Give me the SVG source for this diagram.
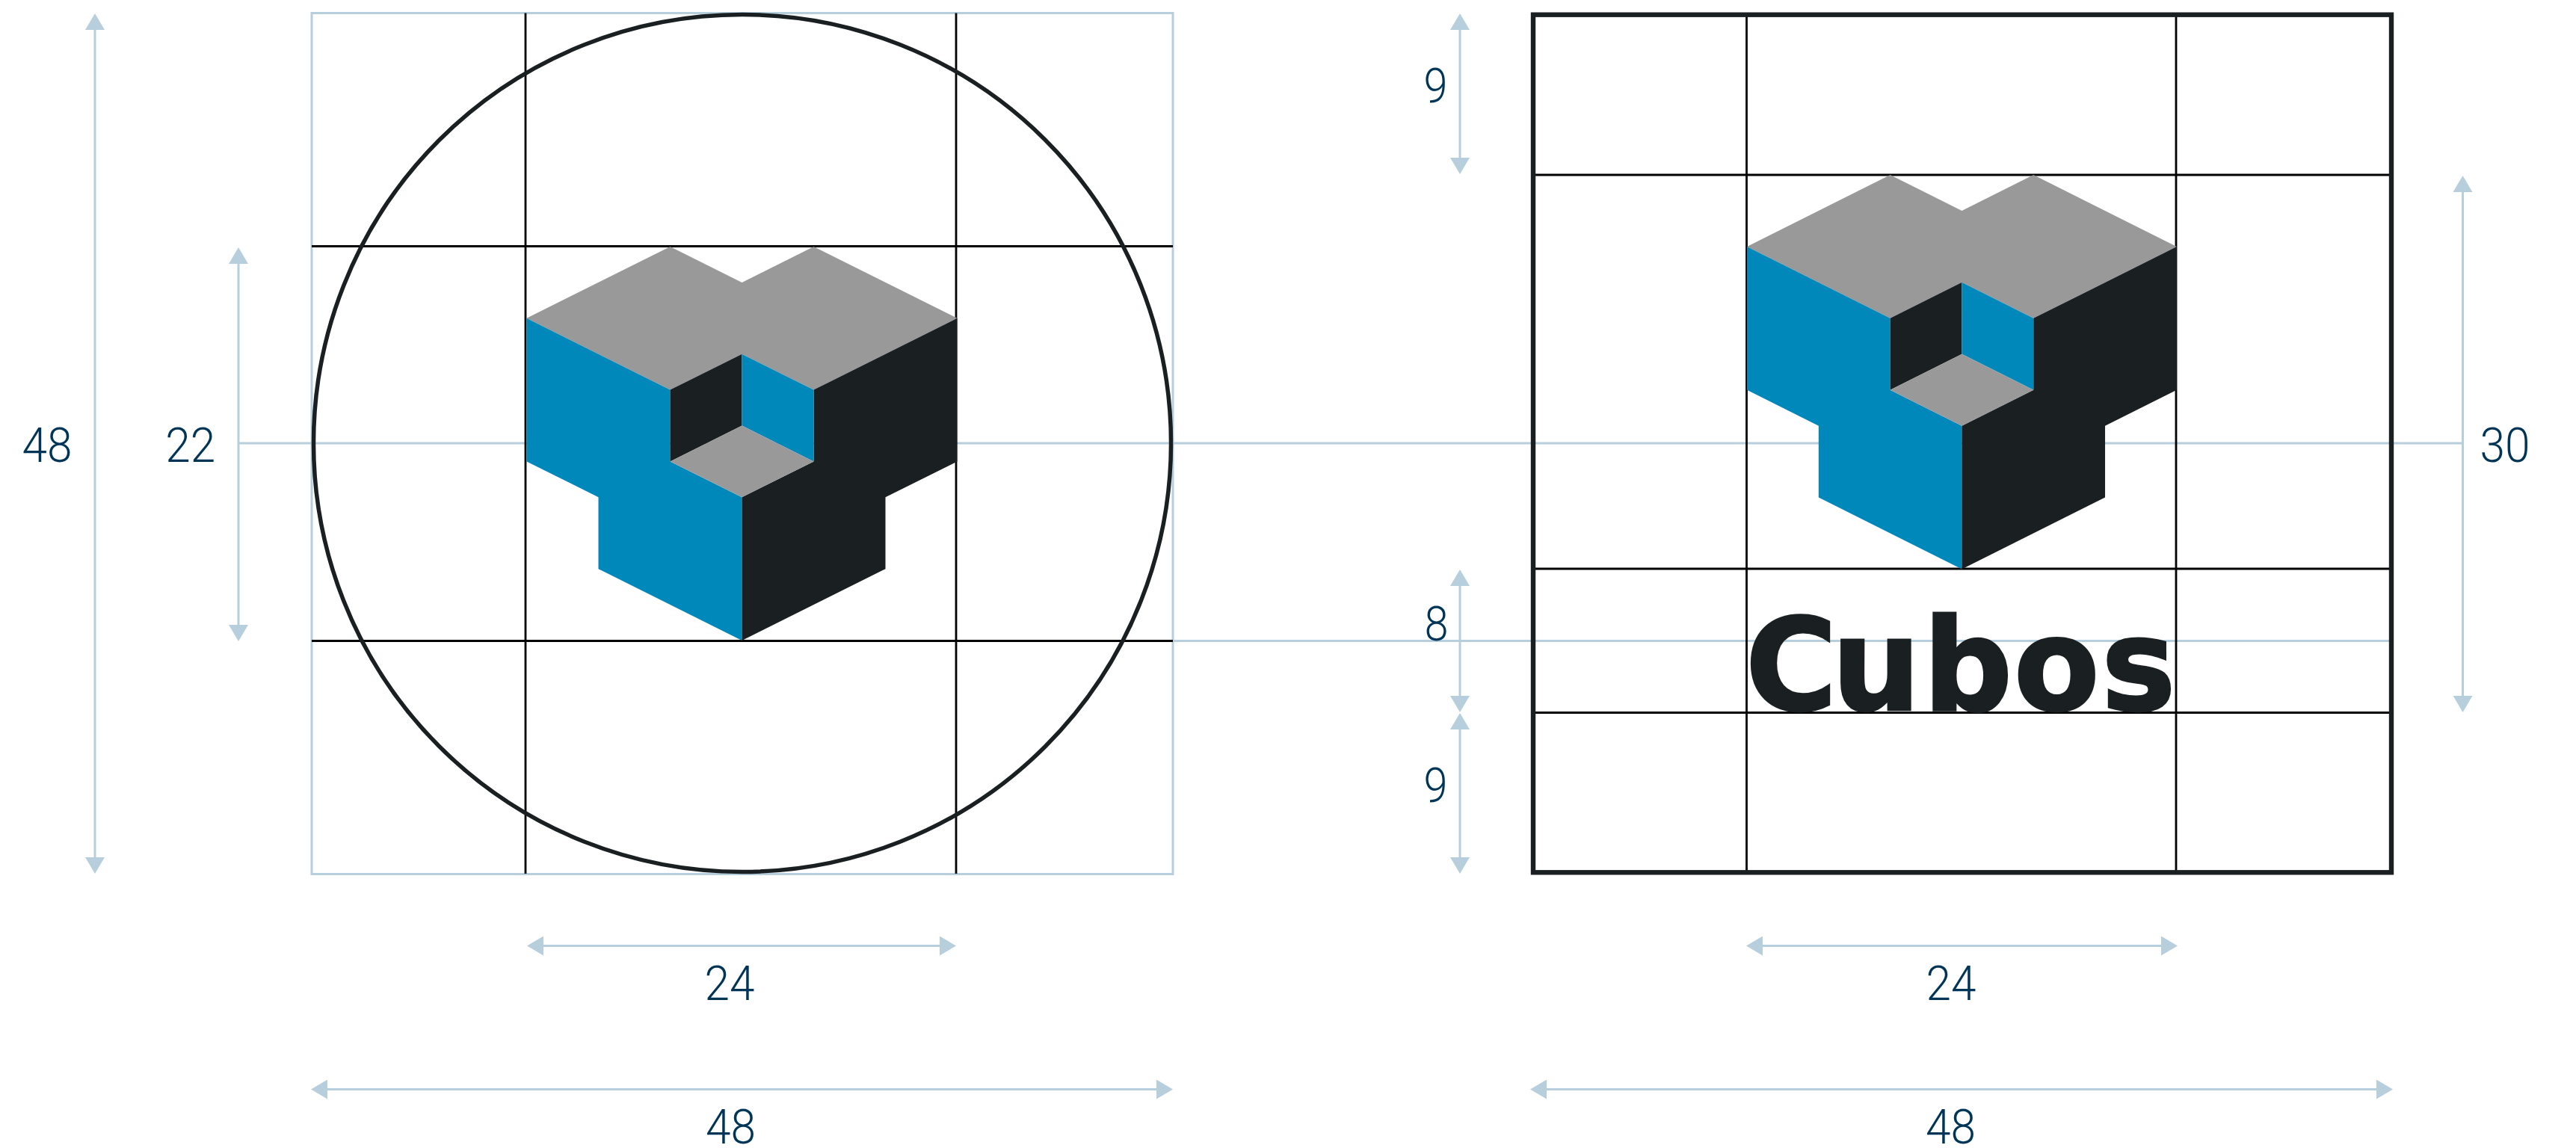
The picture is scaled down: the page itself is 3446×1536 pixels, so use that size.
<svg xmlns="http://www.w3.org/2000/svg" xmlns:xlink="http://www.w3.org/1999/xlink" width="3446" height="1536" viewBox="0 0 3446 1536">
<style>
.guide{fill:none;stroke:#b7cedd;stroke-width:3}
.dim{fill:none;stroke:#b7cedd;stroke-width:3;marker-start:url(#head);marker-end:url(#head)}
.grid{fill:none;stroke:#000;stroke-width:2.8}
.frame{fill:none;stroke:#1a1f21;stroke-width:6.4}
.ring{fill:none;stroke:#1a1f21;stroke-width:5.5}
.num{font-family:Roboto,"Liberation Sans",sans-serif;font-weight:300;font-size:65px;fill:#003557;text-anchor:middle}
.gray{fill:#999}.blue{fill:#0088bb}.dark{fill:#1a1f21}
.word{font-family:"DejaVu Sans",sans-serif;font-weight:700;font-size:172px;fill:#1a1f21;stroke:#1a1f21;stroke-width:3}
</style>
<defs>
<marker id="head" markerUnits="userSpaceOnUse" viewBox="0 0 22 26" markerWidth="22" markerHeight="26" refX="12" refY="13" orient="auto-start-reverse"><path d="M0 0L22 13L0 26Z" fill="#b7cedd"/></marker>
<g id="mark">
<polygon class="gray" points="0,96 192,0 288,48 384,0 576,96 384,192 288,144 192,192"/>
<polygon class="blue" points="0,96 192,192 192,288 288,336 288,528 96,432 96,336 0,288"/>
<polygon class="dark" points="576,96 384,192 384,288 288,336 288,528 480,432 480,336 576,288"/>
<polygon class="dark" points="192,192 288,144 288,240 192,288"/>
<polygon class="blue" points="288,144 384,192 384,288 288,240"/>
<polygon class="gray" points="288,240 384,288 288,336 192,288"/>
</g>
</defs>
<rect width="3446" height="1536" fill="#fff"/>
<g id="connectors">
<path class="guide" d="M319 593H3294.5M1569 857.5H3199"/>
<path class="dim" d="M127 28V1159"/>
<path class="dim" d="M319 341V848"/>
<path class="dim" d="M1953 28V223"/>
<path class="dim" d="M1953 772V943"/>
<path class="dim" d="M1953 964V1159"/>
<path class="dim" d="M3294.5 245V943"/>
<path class="dim" d="M715 1265.5H1269"/>
<path class="dim" d="M426 1457.5H1559"/>
<path class="dim" d="M2346 1265.5H2903"/>
<path class="dim" d="M2057 1457.5H3191"/>
</g>
<g id="panel-circle">
<rect class="guide" x="417" y="17.5" width="1152" height="1152"/>
<path class="grid" d="M703 17.5V1169M1279 17.5V1169M417 329.5H1569M417 857.5H1569"/>
<circle class="ring" cx="993" cy="593" r="573.5"/>
<use xlink:href="#mark" href="#mark" transform="translate(704.5 330) scale(1 .998)"/>
</g>
<g id="panel-square">
<path class="grid" d="M2336.5 20V1167M2911 20V1167M2051 234H3199M2051 761H3199M2051 953.5H3199"/>
<rect class="frame" x="2051" y="19.7" width="1148" height="1147.6"/>
<use xlink:href="#mark" href="#mark" transform="translate(2337 234) scale(.998 .999)"/>
<text class="word" transform="translate(2335 950) scale(.97 1)" x="0 119 245 370 491">Cubos</text>
</g>
<g id="labels">
<text class="num" x="63" y="617.5" textLength="67" lengthAdjust="spacingAndGlyphs">48</text>
<text class="num" x="254.8" y="617.5" textLength="67" lengthAdjust="spacingAndGlyphs">22</text>
<text class="num" x="976" y="1337.5" textLength="67" lengthAdjust="spacingAndGlyphs">24</text>
<text class="num" x="977.5" y="1529.5" textLength="67" lengthAdjust="spacingAndGlyphs">48</text>
<text class="num" x="2610" y="1337.5" textLength="67" lengthAdjust="spacingAndGlyphs">24</text>
<text class="num" x="2609.5" y="1529.5" textLength="67" lengthAdjust="spacingAndGlyphs">48</text>
<text class="num" x="1920.5" y="137" textLength="32" lengthAdjust="spacingAndGlyphs">9</text>
<text class="num" x="1921.5" y="857" textLength="32" lengthAdjust="spacingAndGlyphs">8</text>
<text class="num" x="1920.5" y="1073" textLength="32" lengthAdjust="spacingAndGlyphs">9</text>
<text class="num" x="3351" y="617.5" textLength="67" lengthAdjust="spacingAndGlyphs">30</text>
</g>
</svg>
